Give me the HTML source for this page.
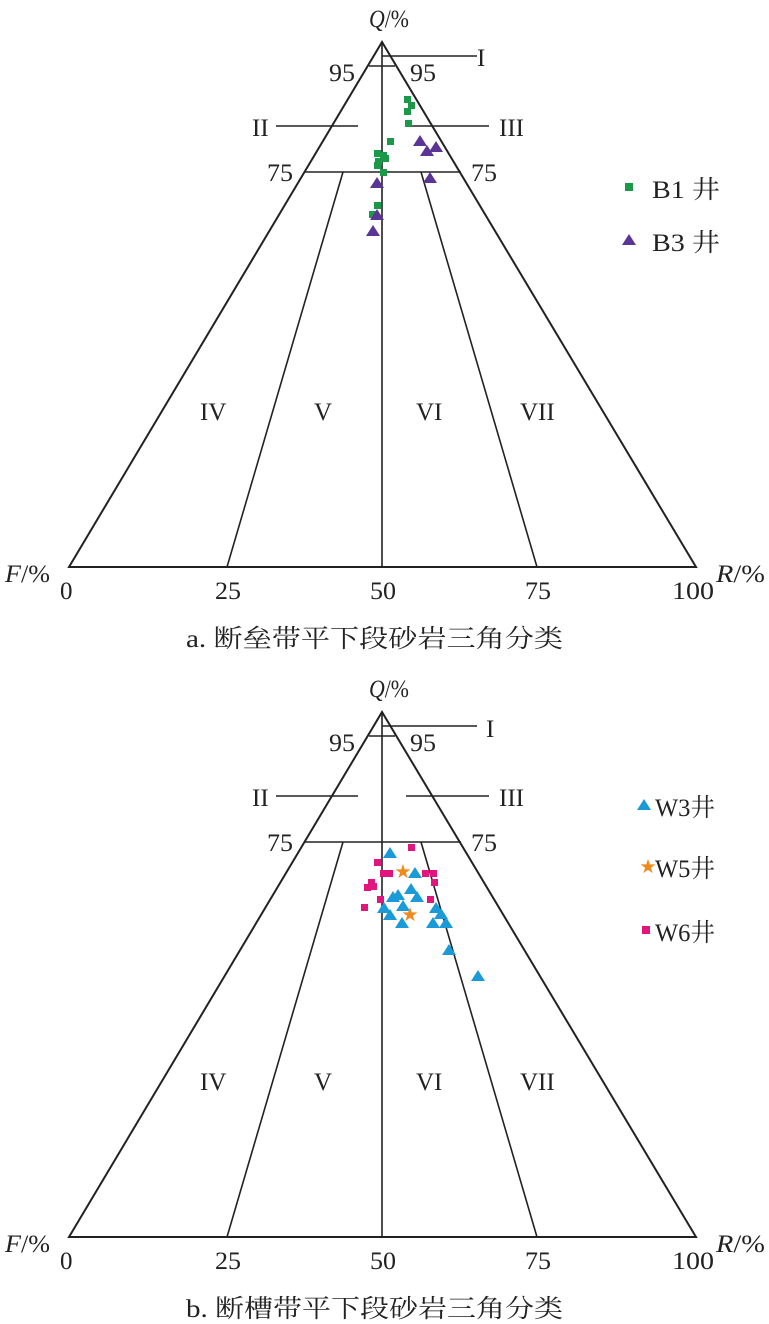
<!DOCTYPE html>
<html><head><meta charset="utf-8"><style>
html,body{margin:0;padding:0;background:#fff;}
svg{display:block;}
text{font-family:"Liberation Serif","Noto Serif CJK SC",serif;fill:#222;}
</style></head><body>
<svg width="769" height="1324" viewBox="0 0 769 1324" xmlns="http://www.w3.org/2000/svg">
<g stroke="#222" stroke-width="1.6" fill="none">
<polygon points="382,42 69,567 696,567" stroke-width="2"/>
<line x1="382" y1="42" x2="382" y2="567"/>
<line x1="369" y1="66" x2="395" y2="66"/>
<line x1="382" y1="56" x2="477" y2="56"/>
<line x1="276" y1="126" x2="358" y2="126"/>
<line x1="406" y1="126" x2="489" y2="126"/>
<line x1="304" y1="172" x2="461" y2="172"/>
<line x1="343" y1="172" x2="227" y2="567"/>
<line x1="421" y1="172" x2="537" y2="567"/>
</g>
<g stroke="#222" stroke-width="1.6" fill="none" transform="translate(0,670)">
<polygon points="382,42 69,567 696,567" stroke-width="2"/>
<line x1="382" y1="42" x2="382" y2="567"/>
<line x1="369" y1="66" x2="395" y2="66"/>
<line x1="382" y1="56" x2="477" y2="56"/>
<line x1="276" y1="126" x2="358" y2="126"/>
<line x1="406" y1="126" x2="489" y2="126"/>
<line x1="304" y1="172" x2="461" y2="172"/>
<line x1="343" y1="172" x2="227" y2="567"/>
<line x1="421" y1="172" x2="537" y2="567"/>
</g>
<g font-size="25">
<text x="369" y="27" textLength="40" lengthAdjust="spacingAndGlyphs"><tspan font-style="italic">Q</tspan>/%</text>
<text x="329" y="81" textLength="26" lengthAdjust="spacingAndGlyphs">95</text><text x="410" y="81" textLength="26" lengthAdjust="spacingAndGlyphs">95</text>
<text x="477" y="66">I</text>
<text x="252" y="136">II</text><text x="499" y="136">III</text>
<text x="267" y="181" textLength="26" lengthAdjust="spacingAndGlyphs">75</text><text x="471" y="181" textLength="26" lengthAdjust="spacingAndGlyphs">75</text>
<text x="200" y="420">IV</text><text x="314" y="420">V</text><text x="416" y="420">VI</text><text x="520" y="420">VII</text>
<text x="5" y="582" textLength="45" lengthAdjust="spacingAndGlyphs"><tspan font-style="italic">F</tspan>/%</text>
<text x="716" y="582" textLength="49" lengthAdjust="spacingAndGlyphs"><tspan font-style="italic">R</tspan>/%</text>
<text x="60" y="599">0</text><text x="215" y="599" textLength="26" lengthAdjust="spacingAndGlyphs">25</text><text x="370" y="599" textLength="26" lengthAdjust="spacingAndGlyphs">50</text><text x="525" y="599" textLength="26" lengthAdjust="spacingAndGlyphs">75</text><text x="672" y="599" textLength="42" lengthAdjust="spacingAndGlyphs">100</text>
<text x="186" y="647" textLength="377" lengthAdjust="spacingAndGlyphs">a. 断垒带平下段砂岩三角分类</text>
<text x="652" y="198" textLength="68" lengthAdjust="spacingAndGlyphs">B1 井</text><text x="652" y="251" textLength="68" lengthAdjust="spacingAndGlyphs">B3 井</text>
</g>
<g font-size="25" transform="translate(0,670)">
<text x="369" y="27" textLength="40" lengthAdjust="spacingAndGlyphs"><tspan font-style="italic">Q</tspan>/%</text>
<text x="329" y="81" textLength="26" lengthAdjust="spacingAndGlyphs">95</text><text x="410" y="81" textLength="26" lengthAdjust="spacingAndGlyphs">95</text>
<text x="486" y="67">I</text>
<text x="252" y="136">II</text><text x="499" y="136">III</text>
<text x="267" y="181" textLength="26" lengthAdjust="spacingAndGlyphs">75</text><text x="471" y="181" textLength="26" lengthAdjust="spacingAndGlyphs">75</text>
<text x="200" y="420">IV</text><text x="314" y="420">V</text><text x="416" y="420">VI</text><text x="520" y="420">VII</text>
<text x="5" y="582" textLength="45" lengthAdjust="spacingAndGlyphs"><tspan font-style="italic">F</tspan>/%</text>
<text x="716" y="582" textLength="49" lengthAdjust="spacingAndGlyphs"><tspan font-style="italic">R</tspan>/%</text>
<text x="60" y="599">0</text><text x="215" y="599" textLength="26" lengthAdjust="spacingAndGlyphs">25</text><text x="370" y="599" textLength="26" lengthAdjust="spacingAndGlyphs">50</text><text x="525" y="599" textLength="26" lengthAdjust="spacingAndGlyphs">75</text><text x="672" y="599" textLength="42" lengthAdjust="spacingAndGlyphs">100</text>
<text x="186" y="647" textLength="377" lengthAdjust="spacingAndGlyphs">b. 断槽带平下段砂岩三角分类</text>
<text x="655" y="146" textLength="60" lengthAdjust="spacingAndGlyphs">W3井</text><text x="655" y="207" textLength="60" lengthAdjust="spacingAndGlyphs">W5井</text><text x="655" y="271" textLength="60" lengthAdjust="spacingAndGlyphs">W6井</text>
</g>
<g fill="#1a9a48">
<rect x="404" y="96" width="7" height="7"/><rect x="408" y="102" width="7" height="7"/><rect x="404" y="108" width="7" height="7"/><rect x="405" y="120" width="7" height="7"/>
<rect x="387" y="138" width="7" height="7"/><rect x="374" y="150" width="7" height="7"/><rect x="380" y="152" width="7" height="7"/><rect x="375" y="158" width="7" height="7"/>
<rect x="382" y="155" width="7" height="7"/><rect x="374" y="162" width="7" height="7"/><rect x="380" y="169" width="7" height="7"/><rect x="374" y="202" width="7" height="7"/><rect x="369" y="211" width="7" height="7"/>
<rect x="625" y="183" width="8" height="8"/>
</g>
<g fill="#5a3595">
<polygon points="420,135 413,146 427,146"/><polygon points="427,145 420,156 434,156"/><polygon points="436,141 429,152 443,152"/>
<polygon points="430,172 423,183 437,183"/><polygon points="377,177 370,188 384,188"/><polygon points="377,209 370,220 384,220"/><polygon points="373,225 366,236 380,236"/>
<polygon points="629,234 622,245 636,245"/>
</g>
<g fill="#1a9ad6">
<polygon points="390,847 383,858 397,858"/><polygon points="415,867 408,878 422,878"/><polygon points="411,883 404,894 418,894"/><polygon points="393,891 386,902 400,902"/>
<polygon points="398,889 391,900 405,900"/><polygon points="403,900 396,911 410,911"/><polygon points="417,891 410,902 424,902"/><polygon points="384,902 377,913 391,913"/>
<polygon points="390,909 383,920 397,920"/><polygon points="402,917 395,928 409,928"/><polygon points="436,902 429,913 443,913"/><polygon points="441,908 434,919 448,919"/>
<polygon points="433,917 426,928 440,928"/><polygon points="446,917 439,928 453,928"/><polygon points="449,944 442,955 456,955"/><polygon points="478,970 471,981 485,981"/>
<polygon points="644,799 637,810 651,810"/>
</g>
<g fill="#e2147e">
<rect x="408" y="844" width="7" height="7"/><rect x="374" y="859" width="7" height="7"/><rect x="380" y="870" width="7" height="7"/><rect x="386" y="870" width="7" height="7"/>
<rect x="368" y="879" width="7" height="7"/><rect x="364" y="884" width="7" height="7"/><rect x="370" y="883" width="7" height="7"/><rect x="377" y="896" width="7" height="7"/>
<rect x="361" y="904" width="7" height="7"/><rect x="422" y="870" width="7" height="7"/><rect x="430" y="870" width="7" height="7"/><rect x="431" y="879" width="7" height="7"/><rect x="427" y="896" width="7" height="7"/>
<rect x="642" y="926" width="8" height="8"/>
</g>
<g font-size="16">
<text x="395" y="877" style="fill:#ef8a1e">★</text><text x="402" y="920" style="fill:#ef8a1e">★</text><text x="640" y="872" style="fill:#ef8a1e">★</text>
</g>
</svg>
</body></html>
